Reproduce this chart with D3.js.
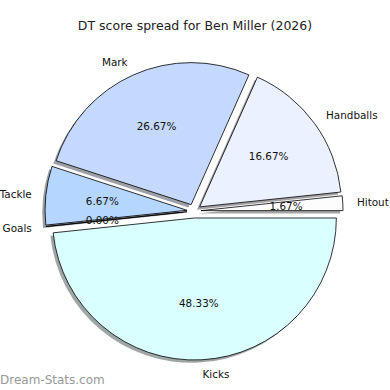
<!DOCTYPE html>
<html>
<head>
<meta charset="utf-8">
<script src="https://cdn.jsdelivr.net/npm/d3@7"></script>
<style>
  body { margin: 0; background: #fff; }
  text { font-family: "DejaVu Sans", sans-serif; }
</style>
</head>
<body>
<script>
// wedges in clockwise order starting from 3 o'clock
var labels = ["Kicks", "Goals", "Tackle", "Mark", "Handballs", "Hitout"];
var counts = [29, 0, 4, 16, 10, 1];
var colors = ["#d9ffff", "#b5d7ff", "#b5d7ff", "#c5d9ff", "#ebf1ff", "#fdfdfd"];

var W = 390, H = 390;
var cx = 194, cy = 211, r = 142, explode = 7;

var svg = d3.select("body").append("svg").attr("width", W).attr("height", H);

svg.append("text").attr("x", 195).attr("y", 30).attr("text-anchor", "middle")
    .style("font-size", "12.5px").attr("fill", "#222")
    .text("DT score spread for Ben Miller (2026)");

var total = d3.sum(counts);
var pie = d3.pie().sort(null).startAngle(Math.PI / 2).endAngle(Math.PI / 2 + 2 * Math.PI);
var arcs = pie(counts);
var arc = d3.arc().innerRadius(0).outerRadius(r);

function mid(d) { return (d.startAngle + d.endAngle) / 2; }
function off(d, dist) {
    var a = mid(d);
    return [cx + Math.sin(a) * dist, cy - Math.cos(a) * dist];
}

// shadows first
svg.append("g").selectAll("path").data(arcs).enter().append("path")
    .attr("d", arc)
    .attr("transform", function (d) { var p = off(d, explode); return "translate(" + (p[0] - 2.8) + "," + (p[1] + 2.8) + ")"; })
    .attr("fill", function (d, i) { var c = d3.rgb(colors[i]); return d3.rgb(c.r * 0.3, c.g * 0.3, c.b * 0.3); })
    .attr("fill-opacity", 0.5);

svg.append("g").selectAll("path").data(arcs).enter().append("path")
    .attr("d", arc)
    .attr("transform", function (d) { var p = off(d, explode); return "translate(" + p[0] + "," + p[1] + ")"; })
    .attr("fill", function (d, i) { return colors[i]; })
    .attr("stroke", "#000").attr("stroke-width", 0.8).attr("stroke-linejoin", "round");

svg.append("g").selectAll("text").data(arcs).enter().append("text")
    .attr("x", function (d) { return off(d, explode + 1.1 * r)[0]; })
    .attr("y", function (d) { return off(d, explode + 1.1 * r)[1]; })
    .attr("dy", "0.35em")
    .attr("text-anchor", function (d) { return Math.sin(mid(d)) > 0 ? "start" : "end"; })
    .style("font-size", "10.4px").attr("fill", "#111")
    .text(function (d, i) { return labels[i]; });

svg.append("g").selectAll("text").data(arcs).enter().append("text")
    .attr("x", function (d) { return off(d, explode + 0.6 * r)[0]; })
    .attr("y", function (d) { return off(d, explode + 0.6 * r)[1]; })
    .attr("dy", "0.35em")
    .attr("text-anchor", "middle")
    .style("font-size", "10.4px").attr("fill", "#111")
    .text(function (d) { return (d.data / total * 100).toFixed(2) + "%"; });

svg.append("text").attr("x", 0).attr("y", 384)
    .style("font-size", "12px").attr("fill", "#999")
    .text("Dream-Stats.com");
</script>
</body>
</html>
